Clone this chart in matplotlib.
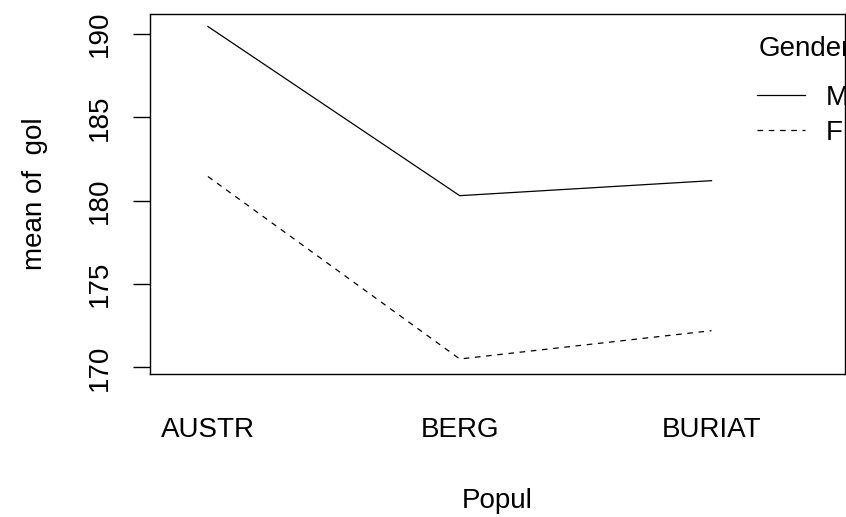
import matplotlib.pyplot as plt

plt.rcParams['font.family'] = ['Liberation Sans', 'DejaVu Sans']

popul = ['AUSTR', 'BERG', 'BURIAT']
male = [190.45, 180.3, 181.2]
female = [181.45, 170.5, 172.2]

fig = plt.figure(figsize=(8.46, 5.17), dpi=100)
ax = fig.add_axes([150 / 846, 143 / 517, 695 / 846, 360 / 517])

x = [1, 2, 3]
ax.plot(x, male, color='black', lw=0.9, label='M')
ax.plot(x, female, color='black', lw=0.9, linestyle=(0, (4.5, 4.5)), label='F')

ax.set_xlim(0.77, 3.53)
ax.set_ylim(169.6, 191.2)
ax.set_yticks([170, 175, 180, 185, 190])
ax.set_yticklabels(['170', '175', '180', '185', '190'], rotation=90, va='center', fontsize=20)
ax.set_xticks(x)
ax.set_xticklabels(popul, fontsize=20)
ax.tick_params(axis='x', length=0, pad=31)
ax.tick_params(axis='y', length=12.5, width=1, pad=14)
for s in ax.spines.values():
    s.set_linewidth(1)

ax.set_xlabel('Popul', fontsize=20, labelpad=32)
ax.set_ylabel('mean of  gol', fontsize=20, labelpad=28)

# legend like R's interaction.plot: title set apart from the rows
ax.text(0.875, 0.883, 'Gender', transform=ax.transAxes, fontsize=20,
        ha='left', va='baseline')
leg = ax.legend(loc='upper left', bbox_to_anchor=(0.873, 0.804),
                frameon=False, fontsize=20,
                borderpad=0, borderaxespad=0,
                handlelength=1.73, handletextpad=0.75, labelspacing=0.34)

fig.savefig('out.png', dpi=100)
